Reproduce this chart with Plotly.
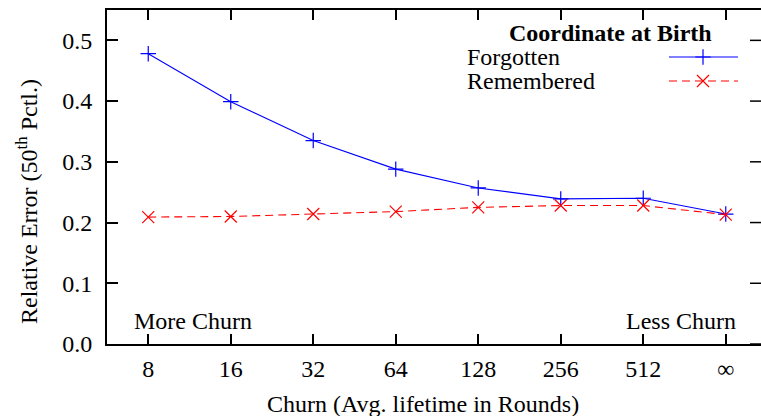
import plotly.graph_objects as go

# Churn levels (average node lifetime in rounds)
churn_labels = ["8", "16", "32", "64", "128", "256", "512", "∞"]

# Median relative error per churn level
forgotten = [0.478, 0.399, 0.335, 0.288, 0.257, 0.239, 0.240, 0.214]
remembered = [0.209, 0.210, 0.214, 0.218, 0.225, 0.228, 0.228, 0.213]

y_ticks = [0.0, 0.1, 0.2, 0.3, 0.4, 0.5]

W, H = 761, 416
ML, MT, MB, MR = 107, 10, 72, 0
PW, PH = W - ML - MR, H - MT - MB

FONT = "Liberation Serif, Times New Roman, serif"
BLUE = "#0000ff"
RED = "#ff0000"
DASH = "8px,5px"
PLUS = dict(symbol="cross-thin", size=11, line=dict(color=BLUE, width=1.2))
CROSS = dict(symbol="x-thin", size=12, line=dict(color=RED, width=1.2))


def px_x(p):
    return (p - ML) / PW


def px_y(p):
    return 1 - (p - MT) / PH


fig = go.Figure()

fig.add_trace(go.Scatter(
    x=churn_labels, y=forgotten, mode="lines+markers", name="Forgotten",
    line=dict(color=BLUE, width=1.1), marker=PLUS, showlegend=False,
))
fig.add_trace(go.Scatter(
    x=churn_labels, y=remembered, mode="lines+markers", name="Remembered",
    line=dict(color=RED, width=1.1, dash=DASH), marker=CROSS, showlegend=False,
))

# Legend samples drawn on an overlay axis spanning the plot area in pixels
fig.add_trace(go.Scatter(
    x=[669, 738], y=[57, 57], mode="lines", line=dict(color=BLUE, width=1.1),
    xaxis="x2", yaxis="y2", showlegend=False, hoverinfo="skip",
))
fig.add_trace(go.Scatter(
    x=[703], y=[57], mode="markers", marker=PLUS,
    xaxis="x2", yaxis="y2", showlegend=False, hoverinfo="skip",
))
fig.add_trace(go.Scatter(
    x=[669, 738], y=[81, 81], mode="lines", line=dict(color=RED, width=1.1, dash=DASH),
    xaxis="x2", yaxis="y2", showlegend=False, hoverinfo="skip",
))
fig.add_trace(go.Scatter(
    x=[703], y=[81], mode="markers", marker=CROSS,
    xaxis="x2", yaxis="y2", showlegend=False, hoverinfo="skip",
))

annotations = [
    dict(text="<b>Coordinate at Birth</b>", x=px_x(610), y=px_y(33), xanchor="center", yanchor="middle"),
    dict(text="Forgotten", x=px_x(465), y=px_y(57), xanchor="left", yanchor="middle"),
    dict(text="Remembered", x=px_x(465), y=px_y(81), xanchor="left", yanchor="middle"),
    dict(text="More Churn", x=px_x(132), y=px_y(321), xanchor="left", yanchor="middle"),
    dict(text="Less Churn", x=px_x(738), y=px_y(321), xanchor="right", yanchor="middle"),
    dict(text="Churn (Avg. lifetime in Rounds)", x=px_x(423), y=px_y(404), xanchor="center", yanchor="middle"),
    dict(text="Relative Error (50<sup>th</sup> Pctl.)", x=px_x(27), y=px_y(202), xanchor="center",
         yanchor="middle", textangle=-90),
]
for a in annotations:
    a.update(xref="paper", yref="paper", showarrow=False, font=dict(family=FONT, size=24, color="black"))

# Mirrored y ticks on the right edge
shapes = [
    dict(type="line", xref="paper", yref="y", x0=1 - 11 / PW, x1=1, y0=v, y1=v,
         line=dict(color="black", width=1.5))
    for v in y_ticks
]

fig.update_layout(
    width=W, height=H,
    margin=dict(l=ML, r=MR, t=MT, b=MB),
    paper_bgcolor="white", plot_bgcolor="white",
    font=dict(family=FONT, size=24, color="black"),
    annotations=annotations,
    shapes=shapes,
    xaxis=dict(
        type="category", range=[-0.5, -0.5 + PW / 82.5],
        tickvals=churn_labels, ticktext=churn_labels,
        showgrid=False, zeroline=False,
        showline=True, linecolor="black", linewidth=2, mirror="ticks",
        ticks="inside", ticklen=10, tickwidth=1.5, tickcolor="black",
        ticklabelstandoff=2,
        tickfont=dict(family=FONT, size=24, color="black"),
    ),
    yaxis=dict(
        range=[0, 0.55], tickvals=y_ticks, ticktext=[f"{v:.1f}" for v in y_ticks],
        showgrid=False, zeroline=False,
        showline=True, linecolor="black", linewidth=2, mirror=False,
        ticks="inside", ticklen=11, tickwidth=1.5, tickcolor="black",
        ticklabelstandoff=8,
        tickfont=dict(family=FONT, size=24, color="black"),
    ),
    xaxis2=dict(overlaying="x", range=[ML, W - MR], visible=False, fixedrange=True),
    yaxis2=dict(overlaying="y", range=[H - MB, MT], visible=False, fixedrange=True),
)

fig.write_html("out.html")
